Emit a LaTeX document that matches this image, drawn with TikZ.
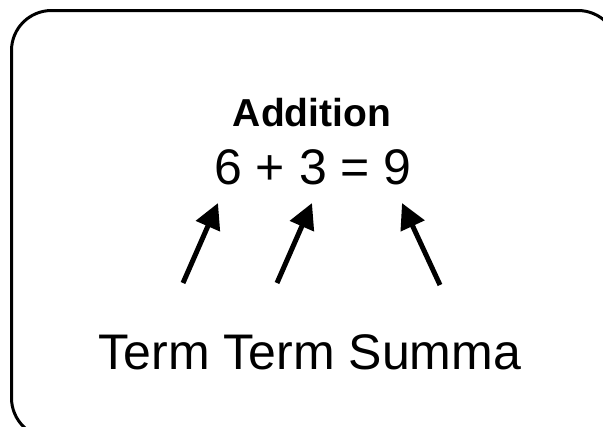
\documentclass[tikz,border=0pt]{standalone}
\usepackage{fontspec}
\setmainfont{Liberation Sans}
\usetikzlibrary{arrows.meta}
\begin{document}
\begin{tikzpicture}[x=0.75pt,y=-0.75pt,
  txt/.style={inner sep=0pt,anchor=base},
  frame/.style={draw=black,line width=2.25pt,rounded corners=30pt},
  ptr/.style={draw=black,line width=3.75pt,-{Triangle[length=19pt,width=19pt]}}]
\useasboundingbox (0,0) rectangle (603,426);
\clip (0,0) rectangle (603,426);
\draw[frame] (11.5,10.5) rectangle (618,438);
\node[txt,font=\fontsize{29.25pt}{32pt}\selectfont\bfseries] (title) at (312,126) {Addition};
\node[txt,font=\fontsize{37.5pt}{40pt}\selectfont] (eq) at (313,184) {6 + 3 = 9};
\node[txt,font=\fontsize{37.5pt}{40pt}\selectfont] (labels) at (310,369) {Term Term Summa};
\coordinate (t1) at (183,283);
\coordinate (h1) at (218,203);
\coordinate (t2) at (277,283);
\coordinate (h2) at (312,203);
\coordinate (t3) at (440,285);
\coordinate (h3) at (402,203);
\draw[ptr] (t1) -- (h1);
\draw[ptr] (t2) -- (h2);
\draw[ptr] (t3) -- (h3);
\end{tikzpicture}
\end{document}
